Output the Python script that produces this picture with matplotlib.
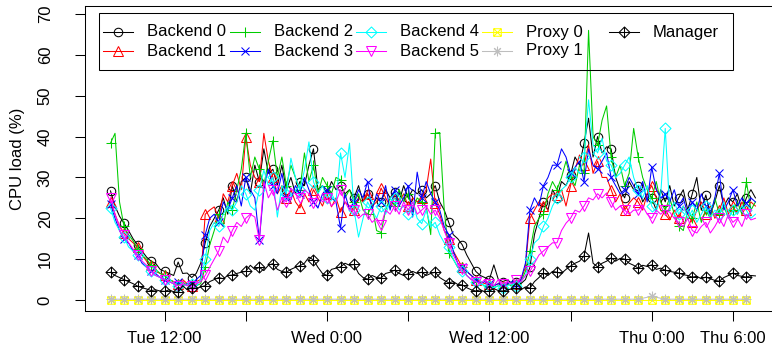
import numpy as np
import matplotlib
matplotlib.use("Agg")
import matplotlib.pyplot as plt
from matplotlib.path import Path
from matplotlib.lines import Line2D
from matplotlib.patches import Rectangle

# ---------------- data (20-minute samples starting Tue 08:00) ----------------
start_hour = 8.0          # hours since Tue 00:00
step_minutes = 20

backend0 = [26.7, 23, 20.5, 18.8, 17, 15, 13.5, 12, 10.5, 9.5, 9.0, 7.5, 7, 6.5, 6, 9.3, 6.5, 6.6,
            5.5, 6.5, 9, 14, 18, 20, 22, 25, 21, 28, 24, 29, 30, 26, 33, 29, 37, 31,
            32, 28, 33, 27, 30, 26, 29, 28, 33, 37, 27, 28, 26, 29, 27, 28, 26, 27,
            25, 28, 24, 26, 23, 25, 24, 27, 25, 26.5, 24, 28, 25, 27, 26, 27, 25, 26,
            28, 24, 22, 19, 16, 15, 13.5, 11, 9, 7, 6, 5.5, 5, 8.6, 5, 4.5, 5, 4,
            4.5, 4, 5, 8, 16, 20, 24, 22, 27, 25, 29, 28, 30.6, 35, 33, 38.4, 44.5, 35,
            40, 36, 37.5, 37, 30, 27, 25, 29, 27, 28, 24, 26, 25, 22, 27, 24, 28, 23,
            25, 27, 22, 26, 30, 22, 25.7, 21, 24, 28, 23, 25, 24, 26, 22, 25, 27, 25]
backend1 = [24, 21, 18, 16.5, 15, 14, 13, 11, 9.5, 8.5, 7, 6.5, 6, 5, 4.5, 4, 5, 4,
            3.5, 4.5, 5, 21, 22, 22.8, 20, 26, 24, 28, 31, 27, 40, 33, 30, 29, 40.8, 34,
            30, 26, 28, 25, 27, 24, 22.5, 26, 24, 27, 25, 23, 26, 22.8, 25, 21.5, 24, 23,
            22, 25, 24, 26, 23, 24, 27.4, 25, 23, 25, 24, 26, 23, 25, 24, 25, 27, 34.5,
            23.7, 21, 17, 15, 12, 10, 8, 7, 6, 5, 4.5, 4, 4, 3.5, 4, 3.5, 4, 3.5,
            4, 5, 8, 20, 22, 24, 23, 25, 26, 25.7, 27, 23, 28, 32, 35.5, 33, 38, 31,
            34, 30, 30, 27, 24, 26, 22, 23.7, 25, 24, 22, 26, 28, 25, 22, 21, 19.6, 22,
            20, 23, 21, 19, 22, 24, 21, 23, 20, 22, 25, 21, 23, 21, 24, 22, 24, 23]
backend2 = [38.4, 40.8, 24, 18, 16, 14.5, 12.5, 11, 10, 8.5, 7.5, 6.5, 6, 5, 4.5, 4, 4.5, 3.5,
            4, 3.5, 4, 8, 13.5, 17, 21, 18, 24, 22, 27, 32, 40.8, 30, 35, 32, 28, 34,
            39, 30, 35, 28, 33, 30, 27, 36, 29, 33, 26, 30, 28, 26, 30, 29.4, 25, 27,
            24, 26, 22, 21, 23, 17, 16.5, 22, 25, 23, 27, 24, 26, 22, 25, 24, 23, 16,
            40.8, 41, 22, 11.5, 10, 8, 8, 6, 5, 4.5, 4, 3.5, 3.5, 3, 3.5, 3, 4, 3.5,
            4, 4.5, 7, 12, 18, 20, 21, 26, 29, 27, 30, 34, 30, 28, 33, 31, 66, 40,
            38, 44, 47.5, 35, 30, 33, 28, 31, 42, 35, 30, 27, 25, 29, 24, 22, 25, 21,
            18, 17, 22, 20, 24, 19, 22, 20, 25, 21, 23, 20, 22, 24, 21, 29, 22, 24]
backend3 = [23.5, 20, 17, 15, 14, 12, 11, 9, 8, 7, 6.5, 5.5, 5, 4.5, 4, 4.5, 3.5, 4,
            4, 5, 6, 16, 20, 21, 19, 24, 22, 25, 28, 23, 30, 27, 25, 14.7, 27, 32,
            28, 26, 31, 25, 24.5, 28, 26, 30, 27, 24, 22.5, 26, 27, 25, 24, 17.6, 26, 22,
            24, 27, 25, 29, 22, 26, 24, 28, 22, 27, 23, 25, 28, 20.3, 31.3, 25, 29, 26,
            24, 22, 18, 16, 12, 9, 8, 7, 6, 5, 4, 4.5, 4, 3.5, 4, 3.5, 4, 4.5,
            4, 5, 9, 22, 25, 23, 28, 30, 33, 33, 37, 35, 31, 32.5, 34, 29, 37, 33,
            32, 34, 36, 30, 28, 26, 27, 30, 28, 26, 29, 24, 32.5, 27, 25, 26, 24, 27,
            23, 25, 21, 24, 22, 26, 23, 21, 25, 31, 22, 24, 27, 23, 25, 23.7, 25, 24]
backend4 = [22.5, 19, 17, 15.4, 13, 12, 11, 9.5, 8, 7, 6, 5.5, 5, 4.5, 4, 3.5, 4, 3.5,
            4, 3.5, 5, 10, 17, 19, 18, 21, 23, 22, 24, 28, 26, 23, 22, 27, 31.8, 28,
            30, 20.3, 28, 26, 34.7, 30, 27, 31.8, 38.7, 29, 26, 28, 25, 26, 24, 36, 30, 38.4,
            22, 15.4, 20, 24, 22, 20, 23, 21, 24, 25, 22, 23, 21, 24, 20, 18.7, 22, 17.9,
            19, 16, 14, 13, 10, 8, 7, 6, 5, 4.5, 4, 3.5, 3.5, 3, 3.5, 3, 3.5, 4,
            3.5, 4.5, 6, 10, 14, 15, 18, 20, 23, 25, 27, 28, 30, 32.5, 31, 35, 49, 38,
            36, 39.6, 34, 33, 30, 31, 33, 35, 30, 27, 25, 28, 23, 21.5, 26, 42, 22, 24,
            21, 23, 20, 22, 19, 21, 23, 20, 22, 21, 24, 20, 22, 21, 23, 22, 20, 21]
backend5 = [25, 21, 18, 16, 14, 12.5, 11, 9.5, 8.5, 7, 6, 5.5, 5, 4.5, 4, 3.5, 4, 3.5,
            3.5, 4, 4.5, 6, 8, 10, 12, 15.4, 14, 17, 19, 18, 20, 21, 20.3, 14.7, 29, 25,
            27, 22, 25, 24, 27.4, 26, 25, 27, 26, 23.7, 26, 24, 25, 23, 24, 27, 24, 22,
            22, 20, 21, 21, 19, 20, 18.3, 22, 21, 23, 21, 24, 22, 24, 21, 22, 23, 21,
            22, 20, 17, 14, 11, 9, 7.5, 6, 5, 4.5, 4, 5, 4, 3.5, 5, 4, 4.5, 4,
            5, 4.5, 6, 7, 9, 11, 12, 13, 14, 14, 17, 18.8, 20, 22, 21.5, 23, 25, 24.5,
            26, 25, 26.2, 24, 22, 23, 22, 21, 22, 22, 23, 21, 20, 22, 21, 22, 21.5, 20,
            19, 18, 20, 17, 16.4, 18, 19, 16.4, 18, 20, 18, 21, 19, 20, 18, 21, 19.6, 20]
manager = [6.8, 6, 5.5, 5.0, 4.5, 4, 3.4, 3, 2.7, 2.3, 2.5, 2.2, 2.1, 2.5, 2.0, 1.9, 3.5, 2.5,
           3.0, 2.8, 3.2, 3.5, 4.5, 5, 5.5, 5.2, 6, 6.1, 6.5, 6.8, 7.0, 8.5, 7.5, 8.0, 7.2, 8.5,
           8.9, 7.5, 7, 6.8, 7.5, 8, 8.4, 9, 10.5, 9.8, 8, 6.5, 6.0, 7.5, 7.8, 8.1, 9, 8.5,
           8.7, 6.5, 5.5, 5.1, 6, 5.5, 5.4, 6.5, 6.8, 7.3, 6.5, 6, 6.4, 7, 6.5, 6.8, 6, 6.5,
           6.8, 5.5, 4.8, 4.2, 4.5, 3.8, 3.7, 3, 2.5, 2.2, 2.5, 2, 2.2, 2.8, 2.3, 2.2, 2.5, 2.7,
           2.9, 2.5, 3.2, 2.9, 4.5, 5.5, 6.6, 6, 7, 6.8, 6.5, 7.5, 8.3, 9, 9.5, 10.8, 16.4, 9,
           8.1, 9, 9.5, 10.3, 9.5, 10.2, 10.0, 9, 8.5, 7.8, 8.5, 8.2, 8.6, 7.5, 7.8, 7.3, 7, 6.8,
           6.6, 6.2, 6, 5.6, 5.8, 5.2, 5.6, 5.2, 4.8, 4.6, 5.5, 6, 6.6, 6, 5.8, 5.6, 6, 5.9]
# proxies: hourly samples starting Tue 08:00
proxy0 = [0.0, 0.0, 0.0, 0.0, 0.0, 0.0, 0.0, 0.0, 0.0, 0.0, 0.0, 0.0,
          0.0, 0.0, 0.0, 0.0, 0.0, 0.0, 0.0, 0.0, 0.0, 0.0, 0.0, 0.0,
          0.0, 0.0, 0.0, 0.0, 0.0, 0.0, 0.0, 0.0, 0.0, 0.0, 0.0, 0.0,
          0.0, 0.0, 0.0, 0.0, 0.0, 0.0, 0.0, 0.0, 0.0, 0.0, 0.0, 0.0]
proxy1 = [0.2, 0.2, 0.2, 0.2, 0.2, 0.2, 0.2, 0.2, 0.2, 0.2, 0.2, 0.2,
          0.2, 0.2, 0.2, 0.2, 0.2, 0.2, 0.2, 0.2, 0.2, 0.2, 0.2, 0.2,
          0.2, 0.2, 0.2, 0.2, 0.2, 0.2, 0.2, 0.2, 0.2, 0.2, 0.2, 0.2,
          0.2, 0.2, 0.2, 0.2, 0.9, 0.2, 0.2, 0.2, 0.2, 0.2, 0.2, 0.2]

series_names = ["Backend 0", "Backend 1", "Backend 2", "Backend 3", "Backend 4",
                "Backend 5", "Proxy 0", "Proxy 1", "Manager"]
y_ticks = [0, 10, 20, 30, 40, 50, 60, 70]
x_tick_hours = [12, 18, 24, 30, 36, 42, 48, 54]
x_tick_labels = ["Tue 12:00", "", "Wed 0:00", "", "Wed 12:00", "", "Thu 0:00", "Thu 6:00"]
y_label = "CPU load (%)"

# ---------------- styling ----------------
plt.rcParams['font.family'] = ['Liberation Sans', 'DejaVu Sans']
W, H = 772, 352
DPI = 100

def px_to_pt(p):
    return p * 72.0 / DPI

sq_x = Path([(-1, -1), (1, -1), (1, 1), (-1, 1), (-1, -1), (-1, -1), (1, 1), (-1, 1), (1, -1)],
            [Path.MOVETO, Path.LINETO, Path.LINETO, Path.LINETO, Path.CLOSEPOLY,
             Path.MOVETO, Path.LINETO, Path.MOVETO, Path.LINETO])
dia_plus = Path([(0, 1), (1, 0), (0, -1), (-1, 0), (0, 1), (0, 1), (0, -1), (-1, 0), (1, 0)],
                [Path.MOVETO, Path.LINETO, Path.LINETO, Path.LINETO, Path.CLOSEPOLY,
                 Path.MOVETO, Path.LINETO, Path.MOVETO, Path.LINETO])
dia = Path([(0, 1), (1, 0), (0, -1), (-1, 0), (0, 1)],
           [Path.MOVETO, Path.LINETO, Path.LINETO, Path.LINETO, Path.CLOSEPOLY])

styles = [
    dict(color="#000000", marker="o", ms=px_to_pt(8.5)),
    dict(color="#FF0000", marker="^", ms=px_to_pt(9.5)),
    dict(color="#00CD00", marker="+", ms=px_to_pt(10.5)),
    dict(color="#0000FF", marker="x", ms=px_to_pt(8)),
    dict(color="#00FFFF", marker=dia, ms=px_to_pt(11)),
    dict(color="#FF00FF", marker="v", ms=px_to_pt(9.5)),
    dict(color="#FFFF00", marker=sq_x, ms=px_to_pt(7.5)),
    dict(color="#BEBEBE", marker=(8, 2, 0), ms=px_to_pt(9.5)),
    dict(color="#000000", marker=dia_plus, ms=px_to_pt(11)),
]

fig = plt.figure(figsize=(W / DPI, H / DPI), dpi=DPI)

n = len(backend0)
t = start_hour + np.arange(n) * step_minutes / 60.0
t_hourly = start_hour + np.arange(len(proxy0)) * 1.0
span = t[-1] - t[0]
xlim = (t[0] - 0.04 * span, t[-1] + 0.04 * span)
ylim = (-2.69, 71.96)

px_per_h = 13.53
x0_px = 110.5
left_px = x0_px - (t[0] - xlim[0]) * px_per_h
width_px = (xlim[1] - xlim[0]) * px_per_h
top_px, bottom_px = 6.0, 311.0
ax = fig.add_axes([left_px / W, 1 - bottom_px / H, width_px / W, (bottom_px - top_px) / H])

lw = 0.75
all_series = [backend0, backend1, backend2, backend3, backend4, backend5, proxy0, proxy1, manager]
for name, vals, st in zip(series_names, all_series, styles):
    x = t_hourly if name.startswith("Proxy") else t
    every = 1 if name.startswith("Proxy") else 3
    ax.plot(x, vals, color=st["color"], lw=lw, marker=st["marker"], ms=st["ms"],
            mfc="none", mec=st["color"], mew=lw, markevery=every, label=name)

ax.set_xlim(xlim)
ax.set_ylim(ylim)
ax.set_xticks(x_tick_hours)
ax.set_xticklabels(x_tick_labels)
ax.set_yticks(y_ticks)
ax.set_yticklabels([str(v) for v in y_ticks], rotation=90, va="center")
for sp in ax.spines.values():
    sp.set_linewidth(lw)
ax.tick_params(axis="both", direction="out", length=px_to_pt(10), width=lw, labelsize=12)
ax.tick_params(axis="x", pad=px_to_pt(10))
ax.tick_params(axis="y", pad=px_to_pt(22))
fig.text(18 / W, 1 - 158.5 / H, y_label, rotation=90, ha="center", va="center", fontsize=12)

# ---------------- legend (R style, transparent box, equal column widths) ----------------
leg_left, leg_top, leg_right, leg_bottom = 99, 12.7, 733, 70
fig.add_artist(Rectangle((leg_left / W, 1 - leg_bottom / H), (leg_right - leg_left) / W,
                         (leg_bottom - leg_top) / H, transform=fig.transFigure,
                         facecolor="none", edgecolor="black", lw=lw))
col_text_x = [147.3, 273.6, 399.9, 526.2, 652.5]
row_y = [32, 51]
for k, (name, st) in enumerate(zip(series_names, styles)):
    c, r = divmod(k, 2)
    tx = col_text_x[c]
    yy = 1 - row_y[r] / H
    fig.add_artist(Line2D([(tx - 44) / W, (tx - 14) / W], [yy, yy], transform=fig.transFigure,
                          color=st["color"], lw=lw))
    fig.add_artist(Line2D([(tx - 29) / W], [yy], transform=fig.transFigure, color=st["color"],
                          marker=st["marker"], ms=st["ms"], mfc="none", mec=st["color"], mew=lw,
                          lw=0))
    fig.text(tx / W, yy, name, ha="left", va="center", fontsize=12)

fig.savefig("out.png", dpi=DPI)
